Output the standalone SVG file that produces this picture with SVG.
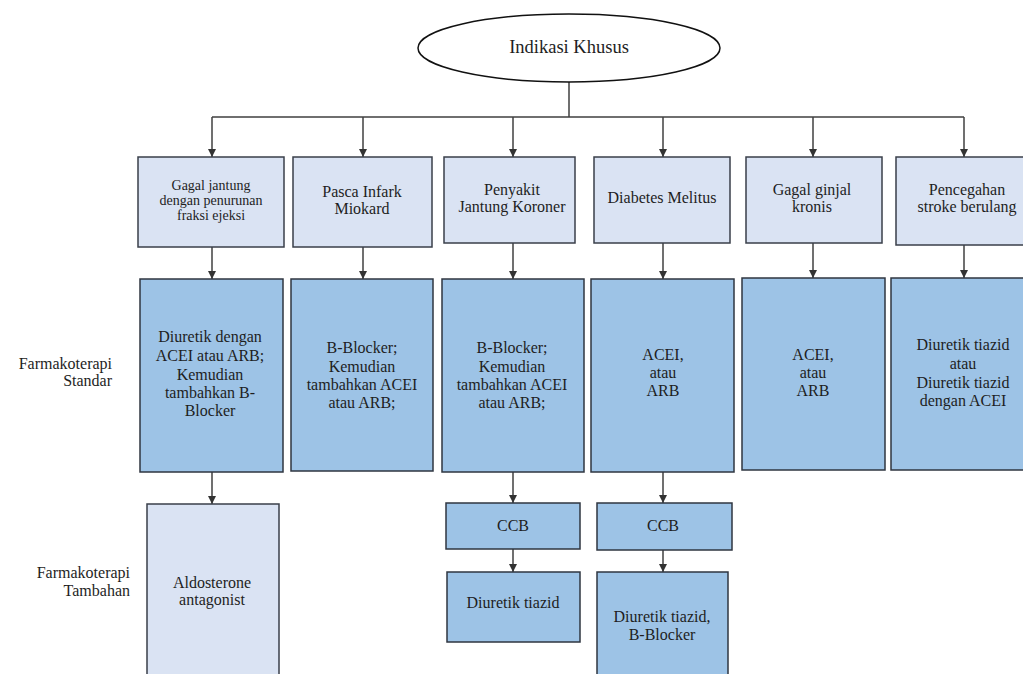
<svg xmlns="http://www.w3.org/2000/svg" width="1023" height="674" viewBox="0 0 1023 674">
<style>
text{font-family:'Liberation Serif','Times New Roman',Tinos,'DejaVu Serif',serif;fill:#1e1e1e;text-anchor:middle;font-size:16px}
.lb{text-anchor:end}
.t1{fill:#dae3f3;stroke:#3a3f4a;stroke-width:1.5}
.t2{fill:#9dc3e6;stroke:#2f3640;stroke-width:1.5}
.c{fill:none;stroke:#404040;stroke-width:1.5}
</style>
<defs>
<marker id="ah" viewBox="0 0 10 10" refX="10" refY="5" markerWidth="8" markerHeight="8" markerUnits="userSpaceOnUse" orient="auto">
<path d="M0,0 L10,5 L0,10 z" fill="#333"/>
</marker>
</defs>
<rect width="1023" height="674" fill="#fff"/>
<g id="connectors">
<path class="c" d="M569,82 V117 M212,117 H964"/>
<path class="c" marker-end="url(#ah)" d="M212,117 V157"/>
<path class="c" marker-end="url(#ah)" d="M363,117 V157"/>
<path class="c" marker-end="url(#ah)" d="M513,117 V157"/>
<path class="c" marker-end="url(#ah)" d="M663,117 V157"/>
<path class="c" marker-end="url(#ah)" d="M813,117 V157"/>
<path class="c" marker-end="url(#ah)" d="M964,117 V157"/>
<path class="c" marker-end="url(#ah)" d="M212,247 V279"/>
<path class="c" marker-end="url(#ah)" d="M363,247 V279"/>
<path class="c" marker-end="url(#ah)" d="M513,243 V279"/>
<path class="c" marker-end="url(#ah)" d="M663,243 V279"/>
<path class="c" marker-end="url(#ah)" d="M813,243 V278"/>
<path class="c" marker-end="url(#ah)" d="M964,245 V278"/>
<path class="c" marker-end="url(#ah)" d="M212,472 V504"/>
<path class="c" marker-end="url(#ah)" d="M513,472 V503"/>
<path class="c" marker-end="url(#ah)" d="M663,472 V503"/>
<path class="c" marker-end="url(#ah)" d="M513,549 V572"/>
<path class="c" marker-end="url(#ah)" d="M663,550 V572"/>
</g>
<g font-family="Liberation Serif, Times New Roman, Tinos, DejaVu Serif, serif">
<g id="root">
<ellipse cx="569" cy="48" rx="151" ry="34" fill="#fff" stroke="#111" stroke-width="1.5"/>
<text x="569" y="53" style="font-size:18.5px">Indikasi Khusus</text>
</g>
<g id="labels">
<text class="lb" x="112" y="369">Farmakoterapi</text>
<text class="lb" x="112" y="386">Standar</text>
<text class="lb" x="130" y="578">Farmakoterapi</text>
<text class="lb" x="130" y="596">Tambahan</text>
</g>
<g id="n1">
<rect class="t1" x="138" y="157" width="146" height="90"/>
<text x="211" y="190" style="font-size:14px">Gagal jantung</text>
<text x="211" y="205" style="font-size:14px">dengan penurunan</text>
<text x="211" y="220" style="font-size:14px">fraksi ejeksi</text>
</g>
<g id="n2">
<rect class="t1" x="293" y="157" width="139" height="90"/>
<text x="362" y="197">Pasca Infark</text>
<text x="362" y="214">Miokard</text>
</g>
<g id="n3">
<rect class="t1" x="444" y="157" width="131" height="86"/>
<text x="512" y="195">Penyakit</text>
<text x="512" y="212">Jantung Koroner</text>
</g>
<g id="n4">
<rect class="t1" x="594" y="157" width="136" height="86"/>
<text x="662" y="203">Diabetes Melitus</text>
</g>
<g id="n5">
<rect class="t1" x="746" y="157" width="136" height="86"/>
<text x="812" y="195">Gagal ginjal</text>
<text x="812" y="212">kronis</text>
</g>
<g id="n6">
<rect class="t1" x="896" y="157" width="142" height="88"/>
<text x="967" y="195">Pencegahan</text>
<text x="967" y="212">stroke berulang</text>
</g>
<g id="s1">
<rect class="t2" x="140" y="279" width="143" height="193"/>
<text x="210" y="342">Diuretik dengan</text>
<text x="210" y="361">ACEI atau ARB;</text>
<text x="210" y="380">Kemudian</text>
<text x="210" y="398">tambahkan B-</text>
<text x="210" y="416">Blocker</text>
</g>
<g id="s2">
<rect class="t2" x="291" y="279" width="142" height="192"/>
<text x="362" y="353">B-Blocker;</text>
<text x="362" y="372">Kemudian</text>
<text x="362" y="390">tambahkan ACEI</text>
<text x="362" y="408">atau ARB;</text>
</g>
<g id="s3">
<rect class="t2" x="442" y="279" width="142" height="193"/>
<text x="512" y="353">B-Blocker;</text>
<text x="512" y="372">Kemudian</text>
<text x="512" y="390">tambahkan ACEI</text>
<text x="512" y="408">atau ARB;</text>
</g>
<g id="s4">
<rect class="t2" x="591" y="279" width="143" height="193"/>
<text x="663" y="360">ACEI,</text>
<text x="663" y="378">atau</text>
<text x="663" y="396">ARB</text>
</g>
<g id="s5">
<rect class="t2" x="742" y="278" width="143" height="192"/>
<text x="813" y="360">ACEI,</text>
<text x="813" y="378">atau</text>
<text x="813" y="396">ARB</text>
</g>
<g id="s6">
<rect class="t2" x="891" y="278" width="145" height="192"/>
<text x="963" y="350">Diuretik tiazid</text>
<text x="963" y="369">atau</text>
<text x="963" y="388">Diuretik tiazid</text>
<text x="963" y="406">dengan ACEI</text>
</g>
<g id="a1">
<rect class="t1" x="147" y="504" width="132" height="180"/>
<text x="212" y="588">Aldosterone</text>
<text x="212" y="605">antagonist</text>
</g>
<g id="a2">
<rect class="t2" x="446" y="503" width="134" height="46"/>
<text x="513" y="531">CCB</text>
</g>
<g id="a3">
<rect class="t2" x="447" y="572" width="133" height="70"/>
<text x="513" y="608">Diuretik tiazid</text>
</g>
<g id="a4">
<rect class="t2" x="597" y="503" width="135" height="47"/>
<text x="663" y="531">CCB</text>
</g>
<g id="a5">
<rect class="t2" x="597" y="572" width="131" height="110"/>
<text x="662" y="622">Diuretik tiazid,</text>
<text x="662" y="640">B-Blocker</text>
</g>
</g>
</svg>
